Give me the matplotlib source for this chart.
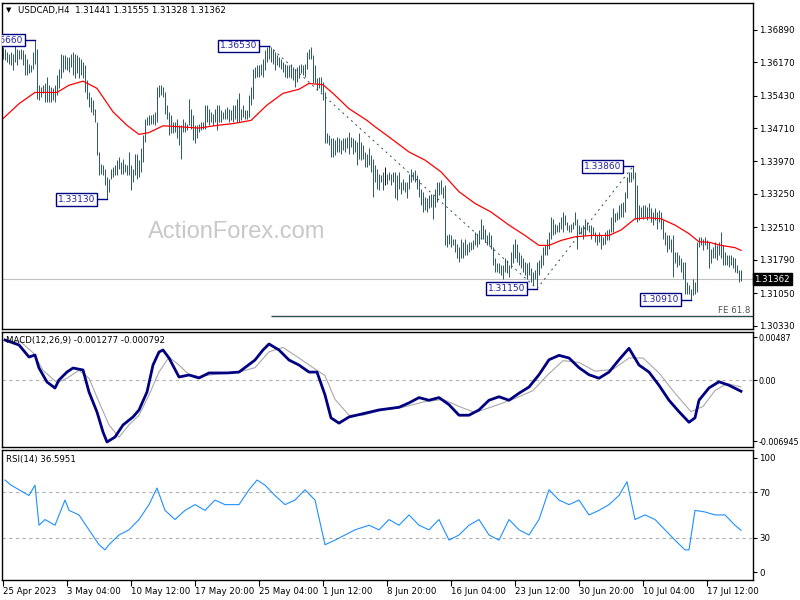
import matplotlib
matplotlib.use('Agg')
import matplotlib.pyplot as plt
import matplotlib.transforms as mtransforms
import numpy as np

plt.rcParams['font.family'] = ['DejaVu Sans']
plt.rcParams['font.size'] = 6.3

# USDCAD H4 bars, high / low in pips (1e-4)
high = [
    13651, 13647, 13640, 13636, 13640, 13636, 13655, 13647, 13644, 13647,
    13644, 13636, 13625, 13614, 13610, 13640, 13666, 13647, 13566, 13562,
    13566, 13570, 13584, 13566, 13562, 13559, 13566, 13588, 13603, 13636,
    13632, 13632, 13629, 13629, 13636, 13640, 13636, 13632, 13629, 13625,
    13618, 13610, 13577, 13551, 13540, 13533, 13514, 13485, 13418, 13392,
    13389, 13381, 13363, 13359, 13381, 13385, 13389, 13400, 13407, 13396,
    13403, 13392, 13389, 13418, 13389, 13381, 13414, 13414, 13400, 13426,
    13455, 13492, 13496, 13499, 13499, 13503, 13507, 13562, 13566, 13566,
    13562, 13551, 13522, 13507, 13499, 13485, 13485, 13492, 13477, 13477,
    13492, 13485, 13481, 13536, 13514, 13499, 13477, 13477, 13481, 13485,
    13485, 13522, 13522, 13514, 13507, 13503, 13514, 13522, 13522, 13511,
    13507, 13514, 13518, 13514, 13511, 13522, 13522, 13536, 13548, 13514,
    13522, 13511, 13511, 13544, 13562, 13603, 13607, 13610, 13610, 13614,
    13625, 13644, 13651, 13653, 13651, 13647, 13640, 13632, 13629, 13625,
    13618, 13614, 13610, 13610, 13614, 13607, 13603, 13607, 13610, 13614,
    13610, 13614, 13640, 13647, 13651, 13632, 13610, 13581, 13584, 13584,
    13573, 13551, 13459, 13455, 13448, 13448, 13444, 13451, 13448, 13444,
    13448, 13448, 13451, 13463, 13451, 13448, 13444, 13440, 13459, 13440,
    13433, 13418, 13414, 13426, 13411, 13403, 13389, 13381, 13370, 13366,
    13374, 13385, 13370, 13374, 13370, 13374, 13374, 13366, 13374, 13352,
    13359, 13352, 13352, 13370, 13381, 13374, 13378, 13366, 13359, 13337,
    13330, 13318, 13315, 13322, 13326, 13322, 13337, 13352, 13352, 13355,
    13341, 13344, 13233, 13237, 13233, 13226, 13226, 13215, 13208, 13226,
    13219, 13226, 13215, 13219, 13219, 13222, 13241, 13237, 13245, 13270,
    13256, 13248, 13233, 13241, 13233, 13208, 13182, 13171, 13171, 13167,
    13167, 13182, 13178, 13167, 13196, 13215, 13226, 13215, 13196, 13189,
    13182, 13174, 13171, 13174, 13160, 13152, 13156, 13174, 13178, 13189,
    13208, 13211, 13226, 13241, 13274, 13270, 13259, 13256, 13263, 13274,
    13285, 13278, 13263, 13256, 13259, 13263, 13285, 13270, 13256, 13252,
    13256, 13270, 13263, 13256, 13256, 13252, 13241, 13233, 13241, 13233,
    13230, 13241, 13245, 13248, 13274, 13293, 13282, 13285, 13300, 13304,
    13307, 13330, 13363, 13374, 13374, 13386, 13374, 13344, 13300, 13296,
    13300, 13300, 13296, 13304, 13293, 13285, 13293, 13285, 13289, 13285,
    13267, 13241, 13233, 13233, 13226, 13233, 13196, 13196, 13189, 13182,
    13174, 13174, 13130, 13123, 13115, 13137, 13130, 13219, 13230, 13230,
    13226, 13230, 13222, 13219, 13204, 13208, 13219, 13211, 13219, 13241,
    13211, 13196, 13189, 13189, 13189, 13185, 13182, 13167, 13156, 13155.5,
]
low = [
    13625, 13621, 13618, 13614, 13610, 13599, 13618, 13610, 13625, 13625,
    13610, 13588, 13588, 13592, 13596, 13603, 13614, 13536, 13533, 13540,
    13548, 13529, 13529, 13529, 13529, 13533, 13529, 13544, 13559, 13581,
    13596, 13603, 13599, 13596, 13607, 13588, 13581, 13592, 13581, 13588,
    13581, 13551, 13536, 13518, 13507, 13499, 13485, 13411, 13366, 13370,
    13366, 13344, 13313, 13330, 13359, 13363, 13366, 13366, 13381, 13370,
    13370, 13374, 13366, 13366, 13333, 13352, 13366, 13359, 13363, 13374,
    13396, 13440, 13477, 13477, 13481, 13481, 13477, 13485, 13540, 13544,
    13540, 13503, 13492, 13455, 13459, 13459, 13463, 13448, 13433, 13403,
    13463, 13463, 13466, 13477, 13470, 13444, 13437, 13448, 13463, 13466,
    13470, 13470, 13485, 13477, 13485, 13477, 13485, 13466, 13485, 13485,
    13492, 13492, 13492, 13485, 13488, 13485, 13492, 13485, 13485, 13488,
    13496, 13492, 13492, 13496, 13522, 13536, 13581, 13584, 13584, 13588,
    13584, 13599, 13618, 13625, 13618, 13614, 13599, 13610, 13607, 13603,
    13596, 13584, 13581, 13584, 13581, 13577, 13562, 13573, 13581, 13592,
    13588, 13584, 13603, 13625, 13625, 13570, 13570, 13555, 13559, 13551,
    13533, 13437, 13437, 13433, 13407, 13407, 13411, 13418, 13418, 13414,
    13422, 13418, 13426, 13414, 13429, 13414, 13418, 13389, 13403, 13400,
    13403, 13385, 13385, 13389, 13374, 13318, 13352, 13337, 13333, 13352,
    13333, 13344, 13348, 13355, 13344, 13352, 13315, 13311, 13337, 13326,
    13333, 13330, 13315, 13337, 13352, 13355, 13352, 13337, 13318, 13300,
    13285, 13289, 13285, 13293, 13296, 13270, 13296, 13307, 13322, 13326,
    13315, 13211, 13208, 13215, 13208, 13211, 13196, 13182, 13174, 13182,
    13182, 13189, 13189, 13196, 13200, 13204, 13211, 13208, 13215, 13226,
    13226, 13219, 13211, 13211, 13204, 13167, 13152, 13152, 13149, 13145,
    13137, 13152, 13149, 13141, 13160, 13171, 13182, 13174, 13167, 13160,
    13152, 13145, 13137, 13145, 13130, 13123, 13137, 13115, 13145, 13160,
    13167, 13189, 13189, 13204, 13226, 13233, 13237, 13241, 13241, 13248,
    13241, 13256, 13245, 13241, 13241, 13248, 13256, 13204, 13237, 13237,
    13226, 13233, 13245, 13241, 13226, 13233, 13219, 13211, 13219, 13204,
    13211, 13215, 13222, 13222, 13241, 13241, 13263, 13267, 13270, 13274,
    13274, 13285, 13315, 13352, 13352, 13359, 13270, 13263, 13267, 13274,
    13270, 13274, 13267, 13274, 13263, 13256, 13267, 13248, 13263, 13248,
    13226, 13211, 13196, 13204, 13196, 13141, 13171, 13163, 13167, 13152,
    13137, 13104, 13104, 13104, 13091, 13101, 13104, 13108, 13208, 13211,
    13200, 13211, 13204, 13160, 13171, 13182, 13182, 13178, 13189, 13182,
    13167, 13167, 13167, 13163, 13167, 13160, 13152, 13149, 13130, 13132.8,
]
black_bars = [191]

# moving average (red), read at some bars
ma_bar = [0, 8, 16, 27, 33, 40, 47, 55, 62, 68, 73, 80, 88, 98, 107, 115, 124, 132,
          140, 148, 153, 160, 165, 173, 182, 186, 194, 203, 211, 219, 228, 236, 244,
          253, 261, 268, 273, 279, 286, 294, 303, 309, 316, 323, 329, 336, 343, 348,
          353, 359, 366, 369]
ma_pips = [13492, 13525, 13550, 13550, 13566, 13575, 13559, 13507, 13477, 13457, 13461,
           13476, 13474, 13471, 13477, 13481, 13488, 13522, 13548, 13557, 13570, 13567,
           13548, 13514, 13488, 13474, 13448, 13418, 13400, 13374, 13330, 13304, 13285,
           13256, 13233, 13211, 13211, 13222, 13230, 13233, 13233, 13245, 13270, 13272,
           13270, 13256, 13237, 13219, 13218, 13211, 13206, 13200]

last_price = 1.31362
header = 'USDCAD,H4  1.31441 1.31555 1.31328 1.31362'
price_ticks = [1.36890, 1.36170, 1.35430, 1.34710, 1.33970, 1.33250, 1.32510,
               1.31790, 1.31050, 1.30330]

swing_bar = [16, 52, 133, 267, 315, 344]
swing_price = [1.36660, 1.33130, 1.36530, 1.31150, 1.33860, 1.30910]
fe_level = 1.30535

macd_bar = [1, 8, 13, 16, 18, 22, 26, 28, 32, 35, 40, 43, 47, 50, 52, 56, 60, 65, 68, 72,
            75, 78, 80, 83, 88, 93, 98, 103, 112, 118, 126, 130, 133, 138, 143, 148, 153,
            157, 161, 164, 168, 173, 188, 198, 203, 208, 213, 218, 223, 228, 233, 238,
            243, 248, 253, 258, 263, 268, 273, 278, 283, 288, 293, 298, 303, 308, 313,
            318, 323, 328, 333, 338, 343, 346, 348, 353, 358, 363, 369]
macd_main = [0.00454, 0.00398, 0.00261, 0.00284, 0.00136, -0.00023, -0.00091, 0.0,
             0.00091, 0.00136, 0.00114, -0.00136, -0.00364, -0.00591, -0.00704, -0.00648,
             -0.00511, -0.00420, -0.00341, -0.00136, 0.00170, 0.00318, 0.00341, 0.00250,
             0.00034, 0.00057, 0.00023, 0.00080, 0.00080, 0.00090, 0.00227, 0.00341,
             0.00409, 0.00341, 0.00227, 0.00170, 0.00090, 0.00090, -0.00170, -0.00430,
             -0.00490, -0.00420, -0.00340, -0.00310, -0.00260, -0.00200, -0.00230,
             -0.00200, -0.00280, -0.00400, -0.00400, -0.00340, -0.00230, -0.00190,
             -0.00230, -0.00150, -0.00080, 0.00060, 0.00230, 0.00280, 0.00250, 0.00140,
             0.00060, 0.00020, 0.00090, 0.00230, 0.00360, 0.00170, 0.00090, -0.00060,
             -0.00230, -0.00360, -0.00480, -0.00430, -0.00230, -0.00090, -0.00020,
             -0.00060, -0.001277]
sig_bar = [1, 9, 15, 20, 27, 32, 38, 43, 48, 53, 58, 63, 68, 73, 78, 83, 88, 93, 98, 108,
           118, 126, 133, 140, 148, 155, 161, 166, 173, 180, 190, 200, 210, 220, 228,
           236, 245, 255, 265, 272, 280, 288, 296, 305, 313, 320, 328, 336, 344, 350,
           356, 362, 369]
macd_signal = [0.0045, 0.0043, 0.0031, 0.0011, -0.0003, 0.0002, 0.0011, 0.0002, -0.0025,
               -0.0051, -0.0065, -0.0051, -0.0040, -0.0017, 0.0009, 0.0026, 0.0017,
               0.0006, 0.0004, 0.0007, 0.0009, 0.0014, 0.0032, 0.0037, 0.0025, 0.0014,
               0.0005, -0.0022, -0.0040, -0.0040, -0.0034, -0.0031, -0.0025, -0.0022,
               -0.0030, -0.0037, -0.0030, -0.0022, -0.0012, 0.0005, 0.0022, 0.0020,
               0.0010, 0.0012, 0.0025, 0.0025, 0.0008, -0.0015, -0.0036, -0.0030,
               -0.0012, -0.0004, -0.000792]

rsi_bar = [1, 4, 8, 13, 16, 18, 21, 26, 31, 33, 38, 43, 48, 51, 53, 58, 63, 68, 73, 77,
           81, 86, 91, 96, 101, 106, 111, 118, 123, 127, 131, 136, 141, 146, 151, 156,
           161, 166, 171, 176, 183, 188, 193, 198, 203, 208, 213, 218, 223, 228, 233,
           238, 243, 248, 253, 258, 263, 268, 273, 278, 283, 288, 293, 298, 303, 308,
           312, 316, 321, 326, 331, 336, 341, 343, 346, 351, 356, 361, 366, 369]
rsi_val = [80.5, 76, 72, 67, 76, 41, 46, 41, 63, 54, 50, 37, 24, 19.5, 24, 32.5, 37, 46,
           59, 73.5, 54, 46, 54, 59, 54, 63, 59, 59, 72, 80.5, 76, 67, 59, 63, 72, 63, 24,
           28, 32.5, 37, 41, 37, 46, 41, 50, 41, 37, 46, 28, 32.5, 41, 46, 32.5, 28, 46,
           37, 32.5, 46, 72, 63, 59, 63, 50, 54, 59, 67, 79, 46, 50, 46, 37, 28, 19.5,
           19.5, 54, 52.6, 50, 50, 41, 36.5951]

date_labels = ['25 Apr 2023', '3 May 04:00', '10 May 12:00', '17 May 20:00',
               '25 May 04:00', '1 Jun 12:00', '8 Jun 20:00', '16 Jun 04:00',
               '23 Jun 12:00', '30 Jun 20:00', '10 Jul 04:00', '17 Jul 12:00']

hi = np.array(high) / 1e4
lo = np.array(low) / 1e4
bars = np.arange(len(hi))
bar_col = '#1b4a68'
navy = '#000080'
fs = 6.2

fig = plt.figure(figsize=(8, 6), dpi=100)


def panel(top, bottom):
    return [2 / 800, 1 - bottom / 600, 751 / 800, (bottom - top) / 600]


ax1 = fig.add_axes(panel(3, 329))
ax2 = fig.add_axes(panel(332, 447), sharex=ax1)
ax3 = fig.add_axes(panel(450, 580), sharex=ax1)

for ax in (ax1, ax2, ax3):
    ax.set_facecolor('white')
    for s in ax.spines.values():
        s.set_color('black')
        s.set_linewidth(1)
    ax.yaxis.tick_right()
    ax.tick_params(axis='y', direction='out', length=3, pad=1.5, labelsize=fs,
                   colors='black')
    ax.tick_params(axis='x', bottom=False, labelbottom=False)
ax1.set_xlim(-0.5, 375)

# ---- price panel
ax1.set_ylim(1.30257, 1.37482)
ax1.set_yticks(price_ticks)
ax1.set_yticklabels(['%.5f' % p for p in price_ticks])
ax1.text(0.313, 0.298, 'ActionForex.com', transform=ax1.transAxes, fontsize=17,
         color='#c8c8c8', ha='center', va='center', family='Liberation Sans')
ax1.axhline(last_price, color='#c0c0c0', lw=0.8)
cols = [('black' if b in black_bars else bar_col) for b in bars]
ax1.vlines(bars, lo, hi, colors=cols, lw=0.65)
ax1.plot(ma_bar, np.array(ma_pips) / 1e4, color='red', lw=0.9)

path_bars = [swing_bar[2], swing_bar[3], swing_bar[4]]
path_vals = [swing_price[2], swing_price[3], swing_price[4]]
ax1.plot(path_bars, path_vals, color='#2f4f4f', lw=0.7, ls=(0, (2, 4)))
ax1.hlines(fe_level, swing_bar[2] + 1, 375, color='#2f4f4f', lw=1)
ax1.text(0.997, fe_level + 0.0003, 'FE 61.8', transform=mtransforms.blended_transform_factory(
    ax1.transAxes, ax1.transData), ha='right', va='bottom', color='#505050', fontsize=fs)

for b, v in zip(swing_bar, swing_price):
    ax1.plot([b - 5, b], [v, v], color=navy, lw=1)
    ax1.text(b - 5.7, v, '%.5f' % v, ha='right', va='center', color='#2222aa',
             fontsize=6.5, clip_on=True,
             bbox=dict(boxstyle='square,pad=0.2', fc='white', ec=navy, lw=1))

ax1.text(1.002, last_price, '%.5f' % last_price,
         transform=mtransforms.blended_transform_factory(ax1.transAxes, ax1.transData),
         ha='left', va='center', color='white', fontsize=fs,
         bbox=dict(boxstyle='square,pad=0.2', fc='black', ec='black'))

fig.text(6 / 800, 1 - 10 / 600, '\u25bc', fontsize=5, va='center', ha='left')
fig.text(18 / 800, 1 - 10 / 600, header, fontsize=fs, va='center', ha='left')

# ---- MACD panel
ax2.set_ylim(-0.007611, 0.005453)
ax2.axhline(0, color='#b0b0b0', lw=0.8, ls=(0, (3, 3)))
ax2.plot(sig_bar, macd_signal, color='#a9a9a9', lw=0.8)
ax2.plot(macd_bar, macd_main, color=navy, lw=2)
ax2.set_yticks([0.00487, 0.0, -0.006945])
ax2.set_yticklabels(['0.00487', '0.00', '-0.006945'])
ax2.tick_params(axis='y', labelsize=5.8, pad=1)
ax2.text(0.005, 0.93, 'MACD(12,26,9) -0.001277 -0.000792', transform=ax2.transAxes,
         fontsize=fs, va='center', ha='left')

# ---- RSI panel
ax3.set_ylim(-6.8, 106.7)
for lvl in (70, 30):
    ax3.axhline(lvl, color='#b0b0b0', lw=0.8, ls=(0, (3, 3)))
ax3.plot(rsi_bar, rsi_val, color='#1e90ff', lw=0.8)
ax3.set_yticks([100, 70, 30, 0])
ax3.set_yticklabels(['100', '70', '30', '0'])
ax3.text(0.005, 0.93, 'RSI(14) 36.5951', transform=ax3.transAxes,
         fontsize=fs, va='center', ha='left')

ax3.set_xticks(np.arange(len(date_labels)) * 32)
ax3.set_xticklabels(date_labels)
ax3.tick_params(axis='x', bottom=True, labelbottom=True, direction='out', length=4,
                pad=1, labelsize=fs)
for lab in ax3.get_xticklabels():
    lab.set_ha('left')

fig.savefig('out.png', dpi=100)
